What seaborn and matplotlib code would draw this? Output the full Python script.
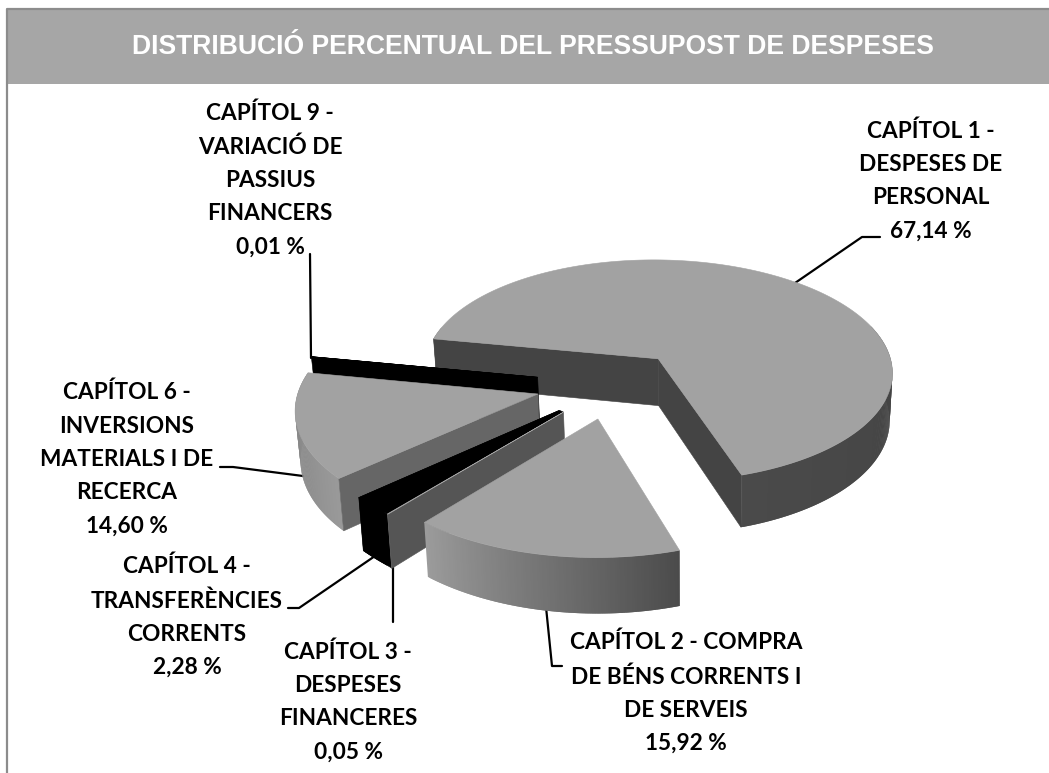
import numpy as np
import matplotlib
matplotlib.use("Agg")
import matplotlib.pyplot as plt
import seaborn as sns

TITLE = "DISTRIBUCIÓ PERCENTUAL DEL PRESSUPOST DE DESPESES"
chapters = ["CAPÍTOL 1 -\nDESPESES DE\nPERSONAL", "CAPÍTOL 2 - COMPRA\nDE BÉNS CORRENTS I\nDE SERVEIS",
            "CAPÍTOL 3 -\nDESPESES\nFINANCERES", "CAPÍTOL 4 -\nTRANSFERÈNCIES\nCORRENTS",
            "CAPÍTOL 6 -\nINVERSIONS\nMATERIALS I DE\nRECERCA", "CAPÍTOL 9 -\nVARIACIÓ DE\nPASSIUS\nFINANCERS"]
values = [67.14, 15.92, 0.05, 2.28, 14.60, 0.01]
value_labels = ["67,14 %", "15,92 %", "0,05 %", "2,28 %", "14,60 %", "0,01 %"]
explode = [0.30, 0.30, 0.31, 0.31, 0.32, 0.32]

sns.set_theme(style="white")
plt.rcParams['font.family'] = ['Lato', 'DejaVu Sans']

# 3-D view of the exploded pie, in pixel-like axis units
X0, Y0, A, B, P, H, START = 612.0, 384.0, 238.0, 115.0, 0.11, 48.0, 169.3
XV, LEAN = 690.0, 0.0137

def project(wx, wy, down=False):
    wx, wy = np.asarray(wx, float), np.asarray(wy, float)
    s = 1.0 / (1.0 + P * wy)
    x, y = X0 + A * wx * s, Y0 - B * wy * s
    if down:
        x, y = x + (XV - x) * LEAN, y + H * s
    return x, y

TOP_GREY = "#a2a2a2"
anchors = np.array([-10, 140, 170, 222, 230, 288, 360, 520], float)
greys = np.array([0x44, 0x70, 0x78, 0x9a, 0x9c, 0x4a, 0x44, 0x44], float)

def wall_color(a):
    v = np.interp(a % 360 if a % 360 > 100 else a % 360 + 360, anchors, greys) / 255
    return (v, v, v)

fig = plt.figure(figsize=(10.49, 7.73), dpi=100, facecolor="white")
ax = fig.add_axes([0, 0, 1, 1])
ax.set_xlim(0, 1049); ax.set_ylim(773, 0); ax.axis("off")

ax.fill([7, 1049, 1049, 7], [9, 9, 84, 84], color="#a6a6a6", lw=0, zorder=1)
ax.plot([7, 7, 1049], [773, 8.5, 8.5], color="#8c8c8c", lw=1.6, zorder=2, solid_capstyle="butt")
ax.text(533, 47.5, TITLE, color="white", fontsize=19.1, fontweight="bold",
        family=["Liberation Sans"], ha="center", va="center", zorder=3)

fractions = np.array(values) / sum(values)
edges = START - np.concatenate([[0], np.cumsum(fractions)]) * 360

def center(i):
    mid = np.radians((edges[i] + edges[i + 1]) / 2)
    return explode[i] * np.cos(mid), explode[i] * np.sin(mid)

styles = {  # index: cut-face colour, top colour, all-black rim
    0: ("#444444", TOP_GREY, False),
    1: (None, TOP_GREY, False),
    2: ("#555555", TOP_GREY, False),
    3: ("#000000", "#000000", True),
    4: ("#666666", TOP_GREY, False),
    5: ("#000000", "#000000", True),
}
order = [0, 5, 4, 3, 2, 1]
z = 10
for i in order:
    a0, a1 = edges[i], edges[i + 1]            # clockwise: a1 < a0
    cx, cy = center(i)
    ang = np.linspace(a1, a0, max(int(a0 - a1) * 2, 2))
    rad = np.radians(ang)
    rx, ry = cx + np.cos(rad), cy + np.sin(rad)
    side, top, black = styles[i]
    # outer rim, drawn strip by strip for the shading (each strip overlaps the next)
    for j in range(len(ang) - 1):
        if np.sin(rad[j]) > 0.30 and i != 4:
            continue
        k = min(j + 3, len(ang))
        xt, yt = project(rx[j:k], ry[j:k])
        xb, yb = project(rx[j:k], ry[j:k], down=True)
        col = "#000000" if black else wall_color(ang[j])
        ax.fill(np.r_[xt, xb[::-1]], np.r_[yt, yb[::-1]], color=col, lw=0, zorder=z)
    z += 1
    # cut faces: the counter-clockwise edge is turned to the viewer
    faces = [a0]
    if i == 0:
        faces = [a0, a1]   # the big slice shows both cut faces
    if i == 3:
        faces = []
    for a in faces:
        r = np.radians(a)
        qx, qy = [cx, cx + np.cos(r)], [cy, cy + np.sin(r)]
        xt, yt = project(qx, qy)
        xb, yb = project(qx, qy, down=True)
        if side is not None:
            ax.fill(np.r_[xt, xb[::-1]], np.r_[yt, yb[::-1]], color=side, lw=0.4, zorder=z)
    if i == 3:
        # the black slice closes up against its thin neighbour, without a gap
        nx, ny = center(2)
        r = np.radians(a1)
        r3 = np.radians(edges[2])
        wx = np.array([cx, cx + np.cos(r), nx + np.cos(r3), nx])
        wy = np.array([cy, cy + np.sin(r), ny + np.sin(r3), ny])
        xt, yt = project(wx, wy)
        ax.fill(xt, yt, color="black", lw=0.4, zorder=z)
        xb, yb = project(wx[1:3], wy[1:3], down=True)
        ax.fill(np.r_[xt[1:3], xb[::-1]], np.r_[yt[1:3], yb[::-1]], color="black", lw=0.4, zorder=z)
    z += 1
    x, y = project(np.r_[cx, rx], np.r_[cy, ry])
    ax.fill(x, y, color=top, lw=0.4, zorder=z)
    z += 1

leaders = [
    ([795, 862, 880], [283, 237, 237]),
    ([546, 552, 562], [607, 666, 666]),
    ([393, 393], [565, 622]),
    ([375, 299, 288], [556, 608, 608]),
    ([303, 233, 220], [476, 467, 467]),
    ([311, 310], [358, 254]),
]
for lx, ly in leaders:
    ax.plot(lx, ly, color="black", lw=1.6, zorder=5)

label_xy = [(931, 181), (686, 693), (348, 702), (187, 617), (127, 459), (270, 180)]
for (lx, ly), c, v in zip(label_xy, chapters, value_labels):
    ax.text(lx, ly, c + "\n" + v, ha="center", va="center", fontsize=16.3, fontweight="bold",
            color="black", linespacing=1.72, zorder=4)

fig.savefig("out.png", dpi=100, facecolor="white")
